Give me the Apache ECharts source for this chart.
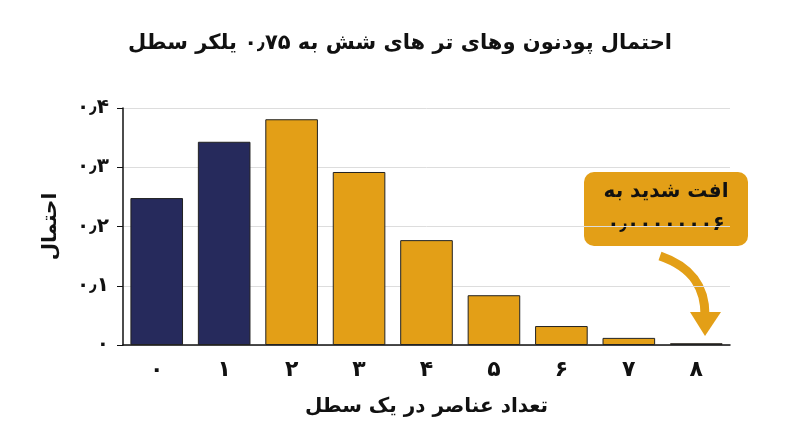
<!DOCTYPE html>
<html><head><meta charset="utf-8">
<script src="https://cdn.jsdelivr.net/npm/echarts@6/dist/echarts.min.js"></script>
<style>html,body{margin:0;background:#fff}#c{width:800px;height:447px}</style>
</head><body><div id="c"></div>
<script>
const categories = ['۰','۱','۲','۳','۴','۵','۶','۷','۸'];
const values = [0.248, 0.343, 0.381, 0.292, 0.177, 0.084, 0.032, 0.012, 0.003];
const yTicks = {0:'۰',0.1:'۰٫۱',0.2:'۰٫۲',0.3:'۰٫۳',0.4:'۰٫۴'};
const navy = '#262a5c', orange = '#e39f17';
const chart = echarts.init(document.getElementById('c'));
const F = 'DejaVu Sans';
chart.setOption({
  animation:false,
  title:{text:'احتمال پودنون وهای تر های شش به ۰٫۷۵ یلکر سطل',left:'center',top:28,
    textStyle:{fontFamily:F,fontSize:21,fontWeight:'bold',color:'#111'}},
  grid:{left:123,right:70,top:108,bottom:102},
  xAxis:{type:'category',data:categories,
    axisLine:{lineStyle:{color:'#111',width:1.5}},axisTick:{show:false},
    axisLabel:{fontFamily:F,fontSize:22,fontWeight:'bold',color:'#111',margin:14},
    name:'تعداد عناصر در یک سطل',nameLocation:'middle',nameGap:52,
    nameTextStyle:{fontFamily:F,fontSize:20,fontWeight:'bold',color:'#111'}},
  yAxis:{type:'value',min:0,max:0.4,interval:0.1,
    axisLine:{show:true,lineStyle:{color:'#111',width:1.5}},
    axisTick:{show:true,length:6,lineStyle:{color:'#111'}},
    splitLine:{lineStyle:{color:'#ddd'}},
    axisLabel:{fontFamily:F,fontSize:20,fontWeight:'bold',color:'#111',margin:14,formatter:v=>yTicks[Math.round(v*10)/10]},
    name:'احتمال',nameLocation:'middle',nameGap:62,nameRotate:90,
    nameTextStyle:{fontFamily:F,fontSize:20,fontWeight:'bold',color:'#111'}},
  series:[{type:'bar',barWidth:'78%',
    data:values.map((v,i)=>({value:v,itemStyle:{color:i<2?navy:orange}})),
    itemStyle:{borderColor:'#222',borderWidth:1}}],
  graphic:[
    {type:'rect',shape:{x:584,y:172,width:164,height:74,r:10},style:{fill:orange}},
    {type:'text',style:{x:666,y:192,text:'افت شدید به',font:'bold 20px "DejaVu Sans"',fill:'#111',align:'center',verticalAlign:'middle'}},
    {type:'text',style:{x:666,y:225,text:'۰٫۰۰۰۰۰۰۰۶',font:'bold 20px "DejaVu Sans"',fill:'#111',align:'center',verticalAlign:'middle'}},
    {type:'bezierCurve',shape:{x1:660,y1:256,cpx1:695,cpx2:705,cpy1:268,cpy2:290,x2:705,y2:315},style:{stroke:orange,lineWidth:9,fill:null}},
    {type:'polygon',shape:{points:[[690,312],[721,312],[705,336]]},style:{fill:orange}}
  ]
});
</script></body></html>
